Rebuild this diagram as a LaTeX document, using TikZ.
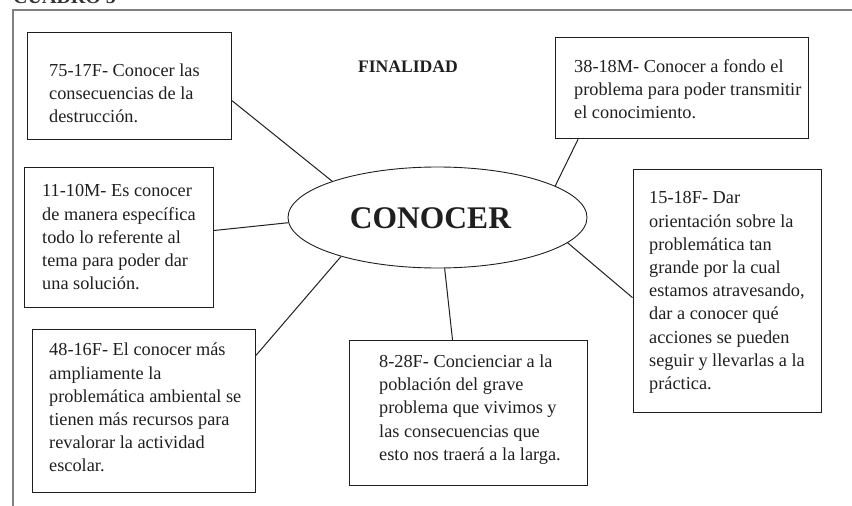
\documentclass[tikz,border=0pt]{standalone}
\usepackage{fontspec}
\setmainfont{Liberation Serif}
\usetikzlibrary{calc,shapes.geometric}
\begin{document}
\begin{tikzpicture}[x=1pt,y=-1pt,
  frameline/.style={draw=black!50,line width=2pt},
  boxnode/.style={draw=black!88,line width=1.1pt,inner sep=0pt,anchor=north west},
  txt/.style={inner sep=0pt,anchor=north west,align=left,font=\fontsize{18.3}{23.2}\selectfont,text=black!88},
  link/.style={draw=black!88,line width=1pt},
  ]
\useasboundingbox (0,0) rectangle (852,506);
\begin{scope}
\clip (0,0) rectangle (852,506);
\node[anchor=base west,inner sep=0pt,font=\bfseries\fontsize{20}{20}\selectfont,text=black!80] (cuadro) at (13,3) {CUADRO 5};
\end{scope}
\draw[frameline] (852,10) -- (12.5,10) -- (12.5,506);

% boxes
\node[boxnode,minimum width=204pt,minimum height=107pt] (A) at (27,32) {};
\node[txt] (At) at (49,63.5) {75-17F- Conocer las\\consecuencias de la\\destrucción.};

\node[boxnode,minimum width=253pt,minimum height=101pt] (B) at (555,37) {};
\node[txt] (Bt) at (574,59.5) {38-18M- Conocer a fondo el\\problema para poder transmitir\\el conocimiento.};

\node[boxnode,minimum width=189pt,minimum height=140pt] (C) at (24,167) {};
\node[txt] (Ct) at (42,184.5) {11-10M- Es conocer\\de manera específica\\todo lo referente al\\tema para poder dar\\una solución.};

\node[boxnode,minimum width=188pt,minimum height=243pt] (D) at (632.5,169) {};
\node[txt] (Dt) at (649,191.5) {15-18F- Dar\\orientación sobre la\\problemática tan\\grande por la cual\\estamos atravesando,\\dar a conocer qué\\acciones se pueden\\seguir y llevarlas a la\\práctica.};

\node[boxnode,minimum width=223pt,minimum height=163pt] (E) at (32,329) {};
\node[txt] (Et) at (49,343) {48-16F- El conocer más\\ampliamente la\\problemática ambiental se\\tienen más recursos para\\revalorar la actividad\\escolar.};

\node[boxnode,minimum width=238pt,minimum height=145pt] (F) at (349,340) {};
\node[txt] (Ft) at (379,354.5) {8-28F- Concienciar a la\\población del grave\\problema que vivimos y\\las consecuencias que\\esto nos traerá a la larga.};

% title
\node[inner sep=0pt,font=\bfseries\fontsize{17.6}{17.6}\selectfont,text=black!88] (title) at (408,67) {FINALIDAD};

% central ellipse
\node[ellipse,draw=black!88,line width=0.9pt,minimum width=299pt,minimum height=101pt,inner sep=0pt] (K) at (437.5,217.5) {};
\node[inner sep=0pt,font=\bfseries\fontsize{31.5}{31.5}\selectfont,text=black!88] (Kt) at (430.5,218.7) {CONOCER};

% connectors
\draw[link] ($(A.north east)!0.636!(A.south east)$) -- (K.161.4);
\draw[link] ($(B.south west)!0.091!(B.south east)$) -- (K.15.6);
\draw[link] ($(C.north east)!0.45!(C.south east)$) -- (K.182.5);
\draw[link] ($(D.north west)!0.527!(D.south west)$) -- (K.-11);
\draw[link] ($(E.north east)!0.16!(E.south east)$) -- (K.202.5);
\draw[link] ($(F.north west)!0.433!(F.north east)$) -- (K.-82.7);
\end{tikzpicture}
\end{document}
